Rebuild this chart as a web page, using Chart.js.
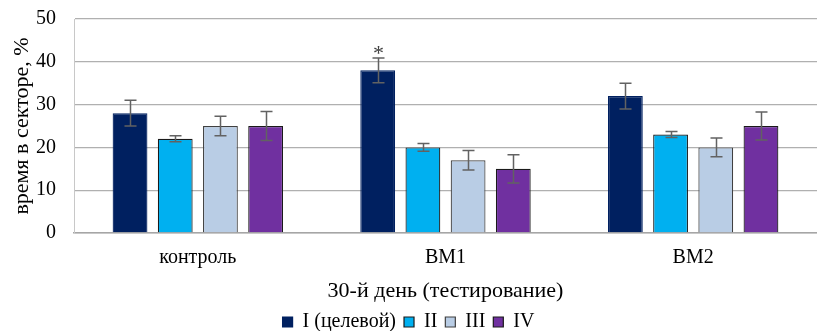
<!DOCTYPE html>
<html>
<head>
<meta charset="utf-8">
<script src="https://cdn.jsdelivr.net/npm/chart.js@4/dist/chart.umd.min.js"></script>
<style>
  html, body { margin: 0; padding: 0; background: #fff; }
  #wrap { width: 817px; height: 331px; }
</style>
</head>
<body>
<div id="wrap"><canvas id="c"></canvas></div>
<script>
const categories = ['контроль', 'ВМ1', 'ВМ2'];
const seriesNames = ['I (целевой)', 'II', 'III', 'IV'];
const valuesI   = [28, 38, 32];
const valuesII  = [22, 20, 23];
const valuesIII = [25, 17, 20];
const valuesIV  = [25, 15, 25];
const errI   = [3.0, 2.9, 3.0];
const errII  = [0.7, 0.9, 0.7];
const errIII = [2.3, 2.3, 2.2];
const errIV  = [3.4, 3.3, 3.3];
const marksI = ['', '*', ''];
const yTicks = [0, 10, 20, 30, 40, 50];

const fillColors   = ['#002060', '#00B0F0', '#B9CDE5', '#7030A0'];
const borderColors = ['#002060', '#1a1a1a', '#404040', '#1a1a1a'];
const FONT = '"Liberation Serif", "Times New Roman", serif';

const allValues = [valuesI, valuesII, valuesIII, valuesIV];
const allErrors = [errI, errII, errIII, errIV];
const allMarks  = [marksI, null, null, null];

// whiskers (mean ± error) and significance marks above the bars
const errorBars = {
  id: 'errorBars',
  afterDatasetsDraw(chart) {
    const ctx = chart.ctx;
    const y = chart.scales.y;
    ctx.save();
    chart.data.datasets.forEach((ds, di) => {
      const meta = chart.getDatasetMeta(di);
      meta.data.forEach((bar, i) => {
        const v = ds.data[i], e = ds.errors[i];
        const top = y.getPixelForValue(v + e);
        const bot = y.getPixelForValue(v - e);
        const x = Math.round(bar.x) + 0.5;
        ctx.strokeStyle = '#626262';
        ctx.lineWidth = 1.5;
        ctx.beginPath();
        ctx.moveTo(x, top); ctx.lineTo(x, bot);
        ctx.moveTo(x - 6, top); ctx.lineTo(x + 6, top);
        ctx.moveTo(x - 6, bot); ctx.lineTo(x + 6, bot);
        ctx.stroke();
        if (ds.marks && ds.marks[i]) {
          ctx.fillStyle = '#404040';
          ctx.font = '22px ' + FONT;
          ctx.textAlign = 'center';
          ctx.textBaseline = 'alphabetic';
          ctx.fillText(ds.marks[i], x, top + 2);
        }
      });
    });
    ctx.restore();
  }
};

new Chart(document.getElementById('c'), {
  type: 'bar',
  data: {
    labels: categories,
    datasets: seriesNames.map((name, k) => ({
      label: name,
      data: allValues[k],
      errors: allErrors[k],
      marks: allMarks[k],
      backgroundColor: fillColors[k],
      borderColor: borderColors[k],
      borderWidth: 1.2,
      barPercentage: 0.77,
      categoryPercentage: 0.73
    }))
  },
  options: {
    responsive: true,
    maintainAspectRatio: false,
    animation: false,
    devicePixelRatio: 1,
    layout: { padding: { top: 19, right: 0, left: 0, bottom: -11 } },
    plugins: {
      tooltip: { enabled: false },
      legend: {
        position: 'bottom',
        labels: {
          font: { family: FONT, size: 20 },
          color: '#000',
          boxWidth: 10,
          boxHeight: 10,
          padding: 8
        }
      }
    },
    scales: {
      x: {
        afterFit(axis) { axis.height = 71; },
        grid: { display: false },
        border: { display: true, color: '#a6a6a6', width: 1.5 },
        ticks: { font: { family: FONT, size: 20 }, color: '#000', padding: 5 },
        title: {
          display: true,
          text: '30-й день (тестирование)',
          font: { family: FONT, size: 22 },
          color: '#000',
          padding: { top: 7, bottom: 0 }
        }
      },
      y: {
        min: 0,
        max: 50,
        afterBuildTicks(axis) { axis.ticks = yTicks.map(v => ({ value: v })); },
        afterFit(axis) { axis.width = 74; },
        grid: { color: '#b0b0b0', lineWidth: 1.3, drawTicks: true, tickLength: 18, tickColor: 'rgba(0,0,0,0)' },
        border: { display: true, color: '#c8c8c8', width: 1 },
        ticks: { font: { family: FONT, size: 20 }, color: '#000', padding: 0 },
        title: {
          display: true,
          text: 'время в секторе, %',
          font: { family: FONT, size: 22 },
          color: '#000',
          padding: { top: 9, bottom: 0 }
        }
      }
    }
  },
  plugins: [errorBars]
});
</script>
</body>
</html>
